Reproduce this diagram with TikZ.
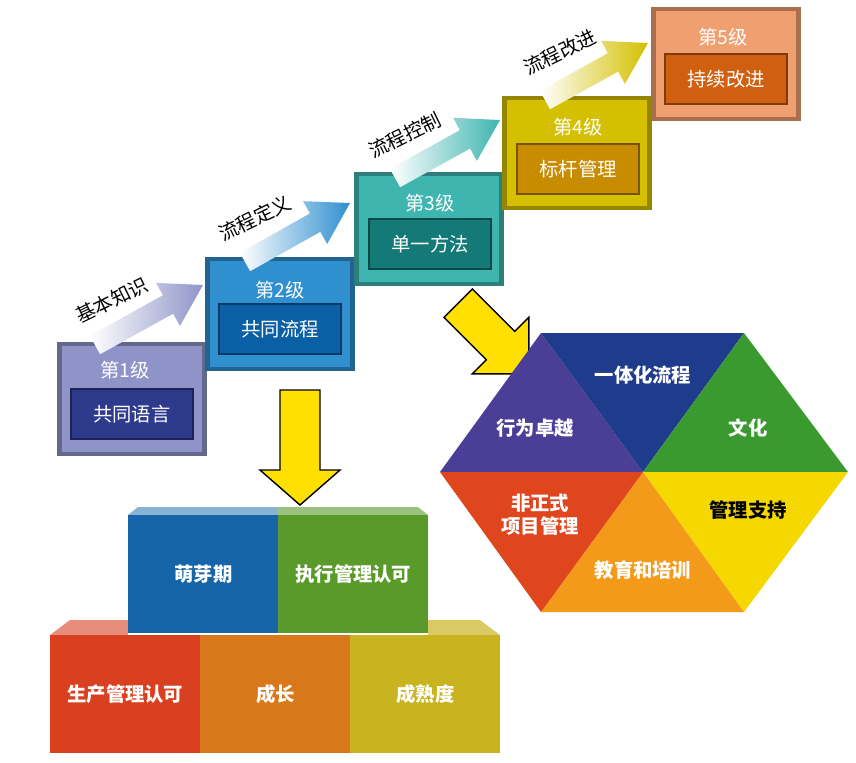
\documentclass[tikz,border=0pt]{standalone}
\usepackage{fontspec}
\setmainfont{Noto Sans CJK SC}
\usetikzlibrary{arrows.meta,positioning,calc}
\definecolor{lvA}{HTML}{8F94C8}\definecolor{lvAi}{HTML}{2E3A8C}
\definecolor{lvB}{HTML}{2F8FCF}\definecolor{lvBi}{HTML}{0A5FA5}
\definecolor{lvC}{HTML}{3FB5B0}\definecolor{lvCi}{HTML}{137A78}
\definecolor{lvD}{HTML}{D4C000}\definecolor{lvDi}{HTML}{C88C00}
\definecolor{lvE}{HTML}{F0A070}\definecolor{lvEi}{HTML}{D06010}
\definecolor{arrY}{HTML}{FFE000}
\definecolor{hxA}{HTML}{4B3E96}\definecolor{hxB}{HTML}{1F3C8C}
\definecolor{hxC}{HTML}{3A9A30}\definecolor{hxD}{HTML}{F5D800}
\definecolor{hxE}{HTML}{F39A1A}\definecolor{hxF}{HTML}{E0461E}
\definecolor{bkA}{HTML}{1565A8}\definecolor{bkB}{HTML}{5A9A2A}
\definecolor{bkC}{HTML}{D94020}\definecolor{bkD}{HTML}{D8781A}
\definecolor{bkE}{HTML}{C9B420}
\tikzset{
 lvbox/.style={draw=#1!70!black,line width=2.5pt,fill=#1,minimum width=2.9cm,minimum height=2.2cm,inner sep=0pt},
 lvin/.style={fill=#1,draw=#1!60!black,line width=1pt,minimum width=2.45cm,minimum height=1.0cm,text=white,font=\fontsize{11}{11}\selectfont},
 lvtxt/.style={text=white,font=\fontsize{11}{11}\selectfont},
 steptxt/.style={font=\fontsize{11}{11}\selectfont,rotate=26},
 blk/.style={fill=#1,minimum width=3cm,minimum height=2.35cm,inner sep=0pt,text=white,font=\bfseries\fontsize{11}{11}\selectfont},
 hxt/.style={text=white,font=\bfseries\fontsize{11}{13}\selectfont,align=center},
 yarr/.style={fill=arrY,draw=black,line width=0.8pt}
}
\begin{document}
\begin{tikzpicture}[x=0.02cm,y=-0.02cm]
\useasboundingbox (0,0) rectangle (856,762);
% levels
\node[lvbox=lvA] (l1) at (132,399) {};
\node[lvbox=lvB] (l2) at (280,314) {};
\node[lvbox=lvC] (l3) at (429,229) {};
\node[lvbox=lvD] (l4) at (577,153) {};
\node[lvbox=lvE] (l5) at (726,64) {};
\node[lvin=lvAi] (i1) at (132,414) {共同语言};
\node[lvin=lvBi] (i2) at (280,329) {共同流程};
\node[lvin=lvCi] (i3) at (430,244) {单一方法};
\node[lvin=lvDi] (i4) at (578,169) {标杆管理};
\node[lvin=lvEi] (i5) at (726,79) {持续改进};
\node[lvtxt] at (125,370) {第1级};
\node[lvtxt] at (280,290) {第2级};
\node[lvtxt] at (430,203) {第3级};
\node[lvtxt] at (578,127) {第4级};
\node[lvtxt] at (723,37) {第5级};
% step arrows
\foreach \a/\b/\c/\d/\col in {95/345/203/285/lvA,245/262/350/203/lvB,395/178/500/120/lvC,545/100/648/43/lvD}{
  \coordinate (s) at (\a,\b); \coordinate (e) at (\c,\d);
  \coordinate (h) at ($(e)!0.8cm!(s)$);
  \shade[left color=white,right color=\col]
    ($(s)!6pt!90:(e)$) -- ($(h)!6pt!-90:(s)$) -- ($(h)!14pt!-90:(s)$) -- (e)
    -- ($(h)!14pt!90:(s)$) -- ($(h)!6pt!90:(s)$) -- ($(s)!6pt!-90:(e)$) -- cycle;
}
\node[steptxt] at (112,300) {基本知识};
\node[steptxt] at (255,218) {流程定义};
\node[steptxt] at (405,135) {流程控制};
\node[steptxt] at (560,52) {流程改进};
% yellow arrows
\draw[yarr] (280,390) -- (320,390) -- (320,470) -- (340,470) -- (300,505) -- (260,470) -- (280,470) -- cycle;
\draw[yarr,rotate around={45:(490,335)}] (470,290) -- (510,290) -- (510,350) -- (530,350) -- (490,390) -- (450,350) -- (470,350) -- cycle;
% hexagon
\coordinate (hc) at (643,472);
\fill[hxA] (440,472) -- (541,333) -- (hc) -- cycle;
\fill[hxB] (541,333) -- (744,333) -- (hc) -- cycle;
\fill[hxC] (744,333) -- (848,472) -- (hc) -- cycle;
\fill[hxD] (848,472) -- (744,612) -- (hc) -- cycle;
\fill[hxE] (744,612) -- (541,612) -- (hc) -- cycle;
\fill[hxF] (541,612) -- (440,472) -- (hc) -- cycle;
\node[hxt] (h1) at (535,428) {行为卓越};
\node[hxt] (h2) at (643,375) {一体化流程};
\node[hxt] (h3) at (748,428) {文化};
\node[hxt,text=black] (h4) at (748,510) {管理支持};
\node[hxt] (h5) at (643,570) {教育和培训};
\node[hxt] (h6) at (540,515) {非正式\\项目管理};
% blocks
\fill[bkA!50] (128,515) -- (138,507) -- (278,507) -- (278,515) -- cycle;
\fill[bkB!60] (278,515) -- (278,507) -- (418,507) -- (428,515) -- cycle;
\fill[bkC!60] (50,635) -- (70,620) -- (128,620) -- (128,635) -- cycle;
\fill[bkE!70] (428,635) -- (428,620) -- (480,620) -- (500,635) -- cycle;
\node[blk=bkA,anchor=north west] (b1) at (128,515) {萌芽期};
\node[blk=bkB,anchor=north west] (b2) at (278,515) {执行管理认可};
\node[blk=bkC,anchor=north west] (b3) at (50,635) {生产管理认可};
\node[blk=bkD,anchor=north west] (b4) at (200,635) {成长};
\node[blk=bkE,anchor=north west] (b5) at (350,635) {成熟度};
\end{tikzpicture}
\end{document}
